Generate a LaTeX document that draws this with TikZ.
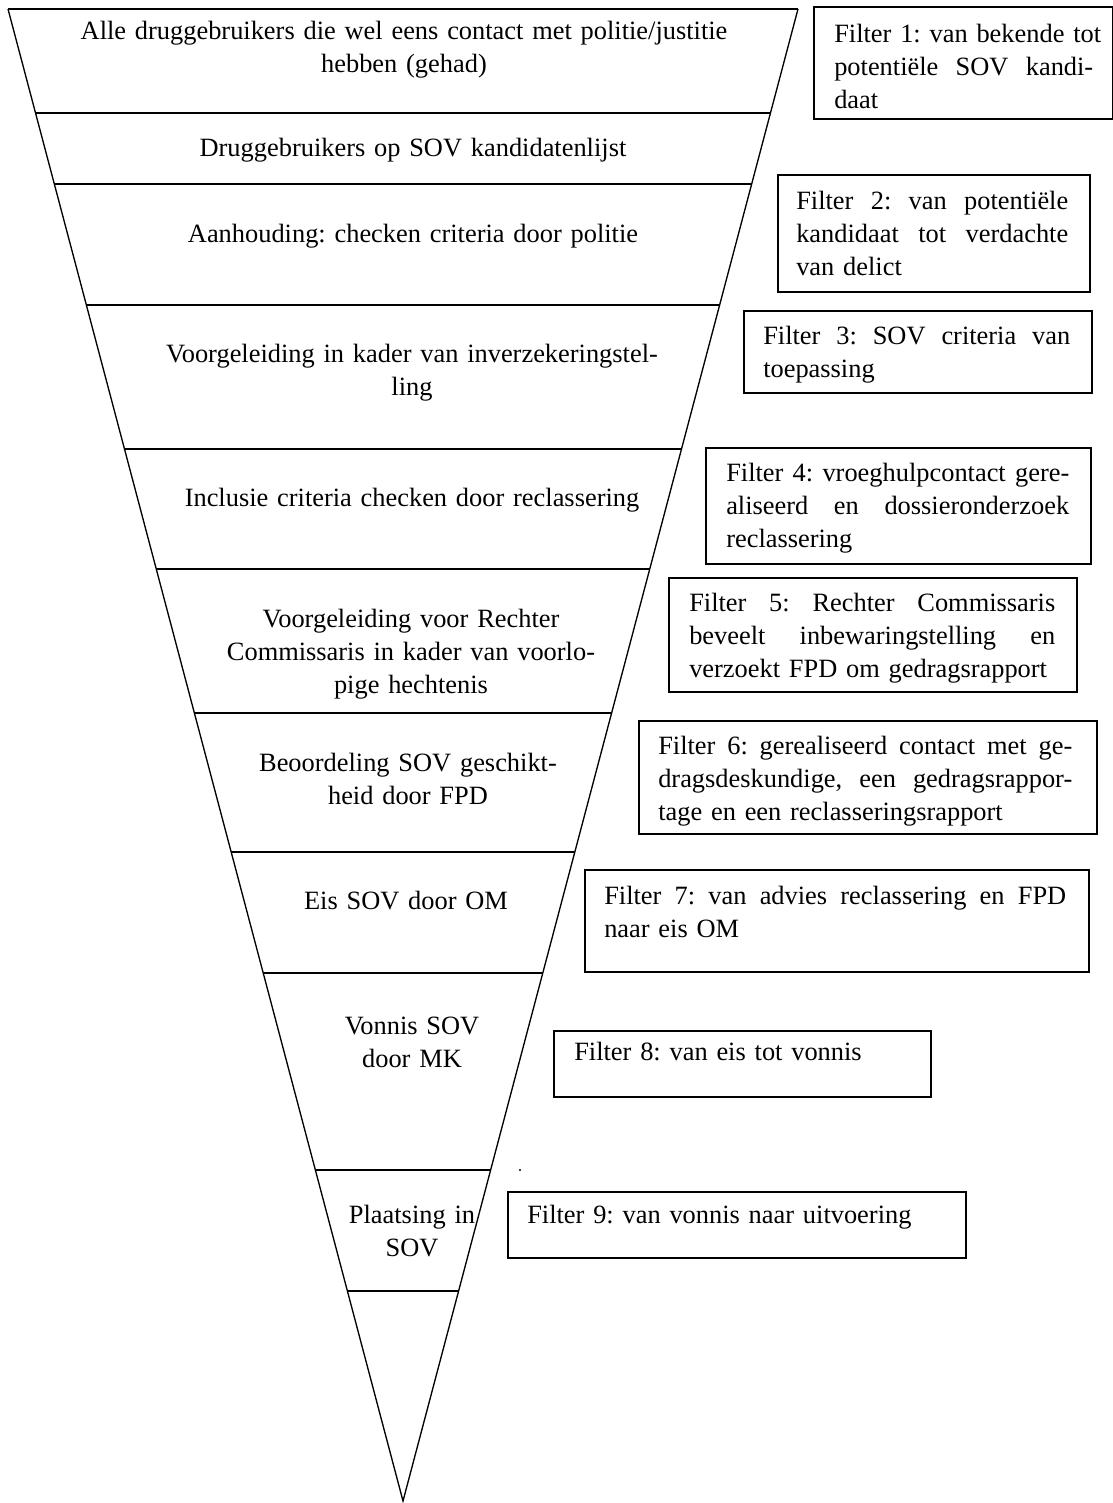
\documentclass[tikz,border=0pt]{standalone}
\usepackage{fontspec}
\setmainfont{Liberation Serif}
\newlength\pxu
\setlength\pxu{0.75pt}
\newcommand\jline[2]{\leavevmode\hbox to #1\pxu{#2}}
\newcommand\jj{\hfill\ }
\begin{document}
\frenchspacing
\begin{tikzpicture}[x=0.75pt,y=-0.75pt,
  txtfont/.style={font=\fontsize{19.8}{24.75}\selectfont},
  ftext/.style={txtfont, anchor=base west, inner sep=0pt, align=left, text width=#1\pxu},
  ctext/.style={txtfont, anchor=base, inner sep=0pt, align=center, text width=660\pxu},
  fbox/.style={draw, line width=1.2pt, inner sep=0pt, anchor=north west},
  funnelside/.style={line width=1pt},
  level/.style={line width=1.3pt}]
\useasboundingbox (0,0) rectangle (1113,1503);
\hyphenpenalty=10000
% funnel
\coordinate (TL) at (8,9);
\coordinate (TR) at (798,9);
\coordinate (AP) at (403,1501);
\draw[funnelside, line join=miter] (TL) -- (AP) -- (TR);
\draw[level] (TL) -- (TR);
\foreach \yy/\ll/\rr in {113/35.5/770.5, 184/54.3/751.7, 305/86.4/719.6, 449/124.5/681.5,
  569/156.3/649.7, 713/194.4/611.6, 852/231.2/574.8, 973/263.2/542.8,
  1170/315.4/490.6, 1291/347.4/458.6}
  \draw[level] (\ll,\yy) -- (\rr,\yy);
% funnel texts
\node[ctext] (c1) at (404,39) {Alle druggebruikers die wel eens contact met politie/justitie\\ hebben (gehad)};
\node[ctext] (c2) at (413,156) {Druggebruikers op SOV kandidatenlijst};
\node[ctext] (c3) at (413,242) {Aanhouding: checken criteria door politie};
\node[ctext] (c4) at (412,362) {Voorgeleiding in kader van inverzekeringstel-\\ ling};
\node[ctext] (c5) at (412,506) {Inclusie criteria checken door reclassering};
\node[ctext] (c6) at (411,627) {Voorgeleiding voor Rechter\\ Commissaris in kader van voorlo-\\ pige hechtenis};
\node[ctext] (c7) at (408,771) {Beoordeling SOV geschikt-\\ heid door FPD};
\node[ctext] (c8) at (406,909) {Eis SOV door OM};
\node[ctext] (c9) at (412,1034) {Vonnis SOV\\ door MK};
\node[ctext] (c10) at (412,1223) {Plaatsing in\\ SOV};
% filter boxes
\node[fbox, minimum width=299\pxu, minimum height=112\pxu] (b1) at (813,6) {};
\node[fbox, minimum width=312\pxu, minimum height=117\pxu] (b2) at (777,174) {};
\node[fbox, minimum width=348\pxu, minimum height=82\pxu] (b3) at (743,310) {};
\node[fbox, minimum width=385\pxu, minimum height=116\pxu] (b4) at (705,447) {};
\node[fbox, minimum width=408\pxu, minimum height=114\pxu] (b5) at (668,577) {};
\node[fbox, minimum width=458\pxu, minimum height=113\pxu] (b6) at (638,720) {};
\node[fbox, minimum width=504\pxu, minimum height=102\pxu] (b7) at (584,869) {};
\node[fbox, minimum width=377\pxu, minimum height=66\pxu] (b8) at (553,1030) {};
\node[fbox, minimum width=458\pxu, minimum height=66\pxu] (b9) at (507,1191) {};
% filter texts
\node[ftext=259] (t1) at (834,42) {\jline{259}{Filter\jj 1:\jj van\jj bekende\jj tot}\\ \jline{259}{potentiële\jj SOV\jj kandi-}\\ daat};
\node[ftext=272] (t2) at (796,209) {\jline{272}{Filter\jj 2:\jj van\jj potentiële}\\ \jline{272}{kandidaat\jj tot\jj verdachte}\\ van delict};
\node[ftext=307] (t3) at (763,344) {\jline{307}{Filter\jj 3:\jj SOV\jj criteria\jj van}\\ toepassing};
\node[ftext=343] (t4) at (726,481) {\jline{343}{Filter\jj 4:\jj vroeghulpcontact\jj gere-}\\ \jline{343}{aliseerd\jj en\jj dossieronderzoek}\\ reclassering};
\node[ftext=366] (t5) at (689,611) {\jline{366}{Filter\jj 5:\jj Rechter\jj Commissaris}\\ \jline{366}{beveelt\jj inbewaringstelling\jj en}\\ verzoekt FPD om gedragsrapport};
\node[ftext=414] (t6) at (658,754) {\jline{414}{Filter\jj 6:\jj gerealiseerd\jj contact\jj met\jj ge-}\\ \jline{414}{dragsdeskundige,\jj een\jj gedragsrappor-}\\ tage en een reclasseringsrapport};
\node[ftext=462] (t7) at (604,904) {\jline{462}{Filter\jj 7:\jj van\jj advies\jj reclassering\jj en\jj FPD}\\ naar eis OM};
\node[ftext=340] (t8) at (574,1060) {Filter 8: van eis tot vonnis};
\node[ftext=420] (t9) at (527,1223) {Filter 9: van vonnis naar uitvoering};
% stray dot
\fill (520,1170) circle[radius=0.8pt];
\end{tikzpicture}
\end{document}
